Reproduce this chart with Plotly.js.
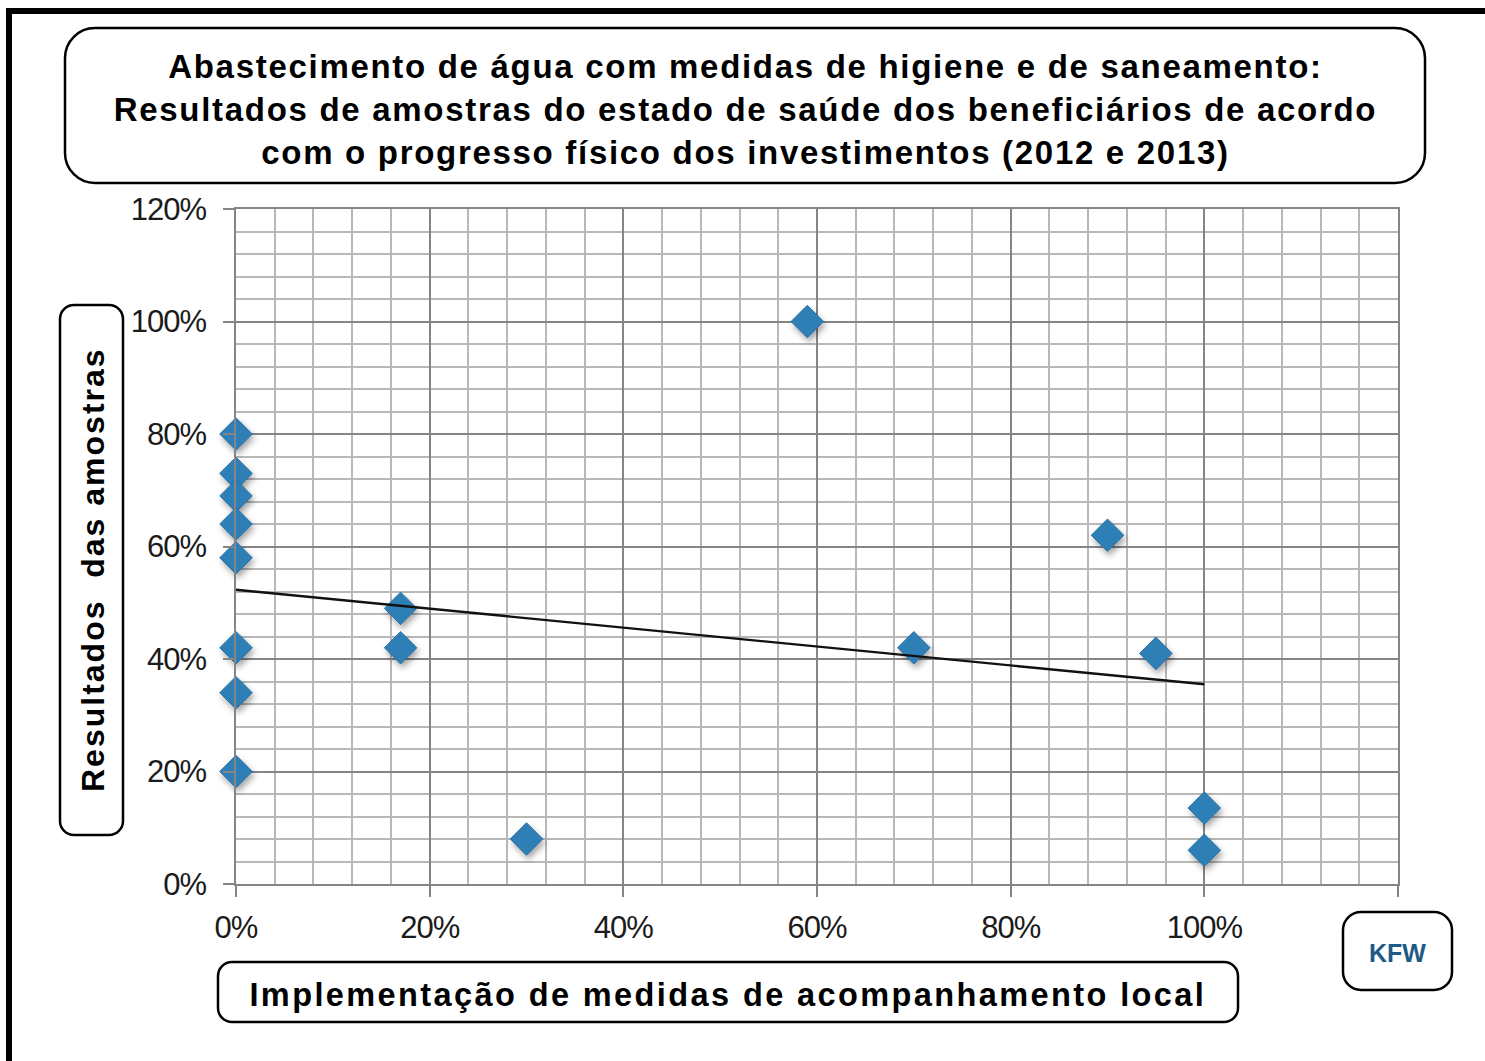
<!DOCTYPE html>
<html>
<head>
<meta charset="utf-8">
<script src="https://cdn.plot.ly/plotly-3.0.1.min.js"></script>
<style>
  html, body { margin: 0; padding: 0; background: #ffffff; }
  #chart { width: 1485px; height: 1061px; }
  .scatterlayer .trace:first-child .point { filter: drop-shadow(2px 4px 3px rgba(0,0,0,0.35)); }
  .gtitle { letter-spacing: 1.7px; }
  .xtick text, .ytick text { letter-spacing: -1px; }
  .annotation[data-index="0"] text { letter-spacing: 2.4px; }
  .annotation[data-index="1"] text { letter-spacing: 2.0px; }
</style>
</head>
<body>
<div id="chart"></div>
<script>
// ---- data ----
const implementacao = [0, 0, 0, 0, 0, 0, 0, 0, 0.17, 0.17, 0.30, 0.59, 0.70, 0.90, 0.95, 1.00, 1.00];
const resultados    = [0.80, 0.73, 0.69, 0.64, 0.58, 0.42, 0.34, 0.20, 0.49, 0.42, 0.08, 1.00, 0.42, 0.62, 0.41, 0.135, 0.06];
const trendX = [0, 1.0];
const trendY = [0.523, 0.355];
const tickValues = [0, 0.2, 0.4, 0.6, 0.8, 1.0, 1.2];
const yTickLabels = ["0%", "20%", "40%", "60%", "80%", "100%", "120%"];
const xTickLabels = ["0%", "20%", "40%", "60%", "80%", "100%", ""];

const titleText = "Abastecimento de água com medidas de higiene e de saneamento:<br>Resultados de amostras do estado de saúde dos beneficiários de acordo<br>com o progresso físico dos investimentos (2012 e 2013)";
const xTitleText = "Implementação de medidas de acompanhamento local";
const yTitleText = "Resultados  das amostras";
const logoText = "KFW";

// ---- layout geometry (pixels) ----
const W = 1485, H = 1061;
const PL = 236, PR = 1398, PT = 209, PB = 884;
const PW = PR - PL, PH = PB - PT;
const fx = px => (px - PL) / PW;
const fy = py => (PB - py) / PH;
function pt(x, y) { return fx(x).toFixed(5) + "," + fy(y).toFixed(5); }
function rrect(x0, y0, x1, y1, r) {
  const k = 0.5523 * r;
  return "M" + pt(x0 + r, y0) +
    " L" + pt(x1 - r, y0) +
    " C" + pt(x1 - r + k, y0) + " " + pt(x1, y0 + r - k) + " " + pt(x1, y0 + r) +
    " L" + pt(x1, y1 - r) +
    " C" + pt(x1, y1 - r + k) + " " + pt(x1 - r + k, y1) + " " + pt(x1 - r, y1) +
    " L" + pt(x0 + r, y1) +
    " C" + pt(x0 + r - k, y1) + " " + pt(x0, y1 - r + k) + " " + pt(x0, y1 - r) +
    " L" + pt(x0, y0 + r) +
    " C" + pt(x0, y0 + r - k) + " " + pt(x0 + r - k, y0) + " " + pt(x0 + r, y0) + " Z";
}
function boxShape(x0, y0, x1, y1, r) {
  return { type: "path", xref: "paper", yref: "paper", path: rrect(x0, y0, x1, y1, r),
           line: { color: "#000000", width: 2.5 }, fillcolor: "rgba(0,0,0,0)", layer: "above" };
}
function barShape(x0, y0, x1, y1) {
  return { type: "rect", xref: "paper", yref: "paper", x0: fx(x0), x1: fx(x1), y0: fy(y0), y1: fy(y1),
           line: { width: 0 }, fillcolor: "#000000", layer: "above" };
}

const tickFont = { family: "Liberation Sans, Arial, sans-serif", size: 31, color: "#1b1b1b" };
const boldFont = (size, color) => ({ family: "Liberation Sans, Arial, sans-serif", size: size, color: color || "#000000", weight: 700 });

const traces = [
  {
    type: "scatter", mode: "markers", x: implementacao, y: resultados, cliponaxis: false,
    marker: { symbol: "diamond", size: 25, color: "#2f7fb7", line: { color: "#2a72a6", width: 1 } },
    hoverinfo: "x+y", showlegend: false
  },
  {
    type: "scatter", mode: "lines", x: trendX, y: trendY,
    line: { color: "#111111", width: 2.4 }, hoverinfo: "skip", showlegend: false
  }
];

const axisCommon = {
  range: [0, 1.2], tickvals: tickValues,
  showgrid: true, gridcolor: "#858585", gridwidth: 1.6,
  minor: { dtick: 0.04, tick0: 0, showgrid: true, gridcolor: "#b8b8b8", gridwidth: 1.6, ticks: "" },
  showline: true, linecolor: "#858585", linewidth: 1.6, mirror: true,
  ticks: "outside", ticklen: 11, tickwidth: 1.6, tickcolor: "#858585",
  tickfont: tickFont, zeroline: false, automargin: false, fixedrange: true
};

const layout = {
  width: W, height: H, autosize: false,
  margin: { l: PL, r: W - PR, t: PT, b: H - PB, pad: 0 },
  paper_bgcolor: "#ffffff", plot_bgcolor: "#ffffff",
  title: { text: titleText, font: boldFont(33), x: 0.502, xref: "container", xanchor: "center",
           y: 1 - 78 / H, yref: "container", yanchor: "middle" },
  xaxis: Object.assign({}, axisCommon, { ticktext: xTickLabels, ticklabelstandoff: 4 }),
  yaxis: Object.assign({}, axisCommon, { ticktext: yTickLabels, ticklabelstandoff: 11 }),
  showlegend: false,
  shapes: [
    barShape(6, 8, 1485, 14),
    barShape(6, 8, 12, 1061),
    boxShape(65, 28, 1425, 183, 30),
    boxShape(60, 305, 123, 835, 14),
    boxShape(218, 962, 1238, 1022, 14),
    boxShape(1343, 912, 1452, 990, 18)
  ],
  annotations: [
    { text: xTitleText, xref: "paper", yref: "paper", x: fx(728), y: fy(995), xanchor: "center", yanchor: "middle",
      showarrow: false, font: boldFont(32.5) },
    { text: yTitleText, xref: "paper", yref: "paper", x: fx(93), y: fy(570), xanchor: "center", yanchor: "middle",
      textangle: -90, showarrow: false, font: boldFont(32) },
    { text: logoText, xref: "paper", yref: "paper", x: fx(1397), y: fy(953), xanchor: "center", yanchor: "middle",
      showarrow: false, font: boldFont(25, "#1f5a86") }
  ]
};

Plotly.newPlot("chart", traces, layout, { displayModeBar: false, staticPlot: false, responsive: false });
</script>
</body>
</html>
